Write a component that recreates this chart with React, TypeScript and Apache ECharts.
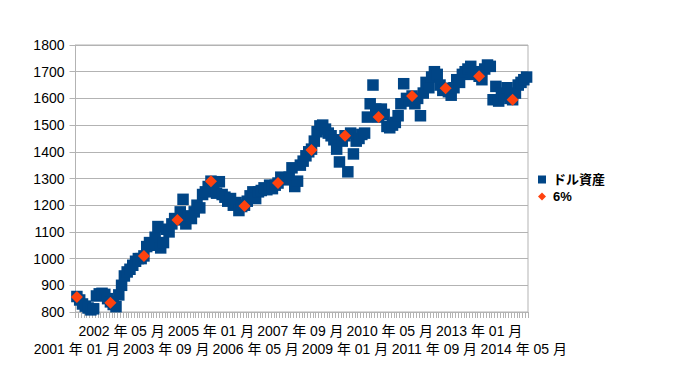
import React, { useEffect, useRef } from "react";
import * as echarts from "echarts";

const START_YEAR = 2001;
const MONTH_COUNT = 162;
const LABEL_STEP = 16;
const months: string[] = Array.from({ length: MONTH_COUNT }, (_, i) => {
  const y = START_YEAR + Math.floor(i / 12);
  const m = (i % 12) + 1;
  return `${y} 年 ${String(m).padStart(2, "0")} 月`;
});

const dollarAssets: number[] = [
  858, 845, 830, 822, 815, 808, 812, 860, 868, 870, 866, 850,
  838, 828, 820, 864, 900, 935, 950, 960, 975, 990, 1000, 1000,
  1010, 1045, 1060, 1050, 1080, 1120, 1040, 1060, 1110, 1100, 1130, 1150,
  1145, 1175, 1222, 1130, 1160, 1150, 1175, 1200, 1190, 1240, 1250, 1270,
  1290, 1265, 1245, 1288, 1240, 1230, 1215, 1225, 1200, 1210, 1180, 1195,
  1200, 1215, 1235, 1250, 1225, 1250, 1255, 1265, 1258, 1275, 1262, 1275,
  1283, 1305, 1300, 1295, 1305, 1340, 1270, 1290, 1350, 1365, 1385, 1400,
  1410, 1440, 1475, 1497, 1500, 1485, 1470, 1460, 1445, 1410, 1362, 1440,
  1460, 1325, 1470, 1392, 1440, 1450, 1465, 1470, 1530, 1580, 1650, 1560,
  1530, 1560, 1540, 1495, 1490, 1500, 1510, 1535, 1580, 1655, 1600, 1590,
  1609, 1580, 1600, 1535, 1620, 1660, 1640, 1680, 1700, 1690, 1650, 1630,
  1638, 1625, 1612, 1640, 1670, 1660, 1690, 1700, 1710, 1720, 1690, 1700,
  1683, 1670, 1710, 1725, 1720, 1595, 1645, 1590, 1620, 1610, 1640, 1600,
  1595, 1620, 1650, 1660, 1670, 1680,
];

// yearly (January) values of the "6%" series, 2001..2014
const sixPctValues: number[] = [
  856, 835, 1010, 1145, 1290, 1197, 1283, 1407, 1460, 1530, 1609, 1638, 1683, 1595,
];

const FONT = "'Liberation Sans', 'Noto Sans CJK JP', sans-serif";
const GRID_COLOR = "#b3b3b3";

export default function App() {
  const ref = useRef<HTMLDivElement>(null);
  useEffect(() => {
    document.body.style.margin = "0";
    if (!ref.current) return;
    const chart = echarts.init(ref.current, null, { renderer: "svg" });
    const labelBase = {
      hideOverlap: false,
      fontFamily: FONT,
      fontSize: 14,
      lineHeight: 18,
      color: "#000",
    };
    chart.setOption({
      animation: false,
      backgroundColor: "#ffffff",
      grid: {
        left: 75.5,
        right: 155,
        top: 45,
        bottom: 72,
        show: true,
        borderColor: GRID_COLOR,
        borderWidth: 1,
      },
      legend: {
        orient: "vertical",
        left: 533,
        top: 168,
        itemWidth: 8,
        itemHeight: 8,
        itemGap: 4,
        textStyle: {
          fontFamily: FONT,
          fontSize: 13,
          fontWeight: "bold",
          color: "#000",
          padding: [0, 0, 0, 2],
        },
        data: [
          { name: "ドル資産", icon: "rect" },
          { name: "6%", icon: "diamond" },
        ],
      },
      xAxis: [
        {
          type: "category",
          data: months,
          boundaryGap: true,
          position: "bottom",
          axisLine: { lineStyle: { color: GRID_COLOR } },
          axisTick: {
            show: true,
            interval: 0,
            length: 6,
            lineStyle: { color: GRID_COLOR },
          },
          axisLabel: {
            ...labelBase,
            interval: (idx: number) => idx % (LABEL_STEP * 2) === LABEL_STEP,
            margin: 10,
          },
          splitLine: { show: false },
        },
        {
          type: "category",
          data: months,
          boundaryGap: true,
          position: "bottom",
          axisLine: { show: false },
          axisTick: { show: false },
          axisLabel: {
            ...labelBase,
            interval: (idx: number) => idx % (LABEL_STEP * 2) === 0,
            margin: 28,
          },
          splitLine: { show: false },
        },
      ],
      yAxis: {
        type: "value",
        min: 800,
        max: 1800,
        interval: 100,
        axisLine: { show: true, lineStyle: { color: GRID_COLOR } },
        axisTick: { show: true, length: 6, lineStyle: { color: GRID_COLOR } },
        axisLabel: {
          margin: 11,
          fontFamily: FONT,
          fontSize: 14,
          color: "#000",
          formatter: (v: number) => String(v),
        },
        splitLine: { lineStyle: { color: GRID_COLOR, width: 1 } },
      },
      series: [
        {
          name: "ドル資産",
          type: "scatter",
          xAxisIndex: 0,
          symbol: "rect",
          symbolSize: 11.5,
          itemStyle: { color: "#004586", opacity: 1 },
          data: dollarAssets.map((v, i) => [months[i], v]),
        },
        {
          name: "6%",
          type: "scatter",
          xAxisIndex: 0,
          symbol: "diamond",
          symbolSize: 12,
          itemStyle: { color: "#ff420e", opacity: 1 },
          data: sixPctValues.map((v, k) => [months[k * 12], v]),
        },
      ],
    });
    return () => chart.dispose();
  }, []);
  return <div ref={ref} style={{ width: 683, height: 384 }} />;
}
